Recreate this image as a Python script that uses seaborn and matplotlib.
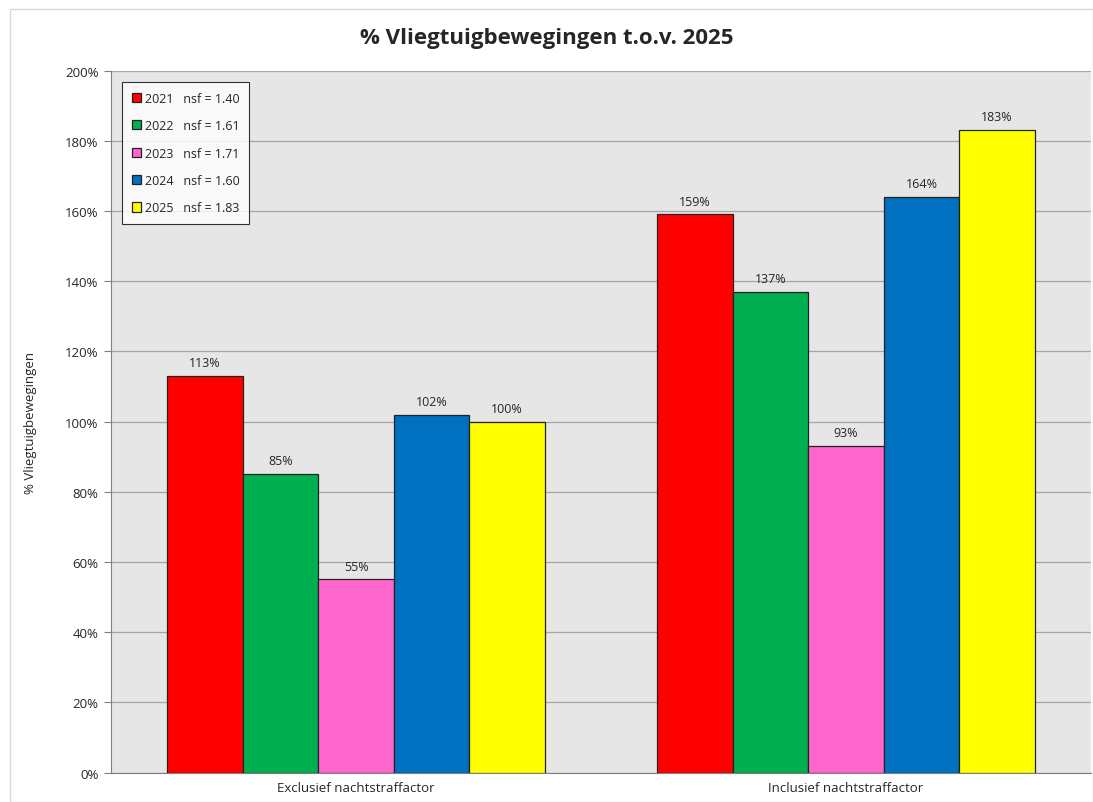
import pandas as pd
import seaborn as sns
import matplotlib.pyplot as plt
from matplotlib.patches import Rectangle
from matplotlib.ticker import MultipleLocator, FuncFormatter

# Data
categories = ["Exclusief nachtstraffactor", "Inclusief nachtstraffactor"]
years = ["2021", "2022", "2023", "2024", "2025"]
nsf = ["1.40", "1.61", "1.71", "1.60", "1.83"]
excl_values = [113, 85, 55, 102, 100]
incl_values = [159, 137, 93, 164, 183]
colors = ["#ff0000", "#00b050", "#ff66cc", "#0070c0", "#ffff00"]

rows = []
for i, y in enumerate(years):
    rows.append({"categorie": categories[0], "jaar": y, "waarde": excl_values[i]})
    rows.append({"categorie": categories[1], "jaar": y, "waarde": incl_values[i]})
df = pd.DataFrame(rows)

sns.set_style("white")
plt.rcParams["font.family"] = ["Open Sans", "DejaVu Sans"]

fig = plt.figure(figsize=(10.93, 8.03), dpi=100)
ax = fig.add_axes([0.1016, 0.0367, 0.8966, 0.8742])
ax.set_facecolor("#e6e6e6")

sns.barplot(data=df, x="categorie", y="waarde", hue="jaar", palette=colors,
            saturation=1, width=0.77, edgecolor="#222222", linewidth=0.9,
            ax=ax, zorder=3)

for cont in ax.containers:
    ax.bar_label(cont, labels=[f"{v:.0f}%" for v in cont.datavalues],
                 padding=5, fontsize=9)

ax.set_ylim(0, 200)
ax.yaxis.set_major_locator(MultipleLocator(20))
ax.yaxis.set_major_formatter(FuncFormatter(lambda v, p: f"{v:.0f}%"))
ax.grid(axis="y", color="#a6a6a6", linewidth=0.9, zorder=0)
ax.set_axisbelow(True)
ax.tick_params(axis="y", length=5, color="#808080", labelsize=9.5, pad=4, left=True)
ax.tick_params(axis="x", length=0, labelsize=9.5, pad=6)
for s in ["top", "right"]:
    ax.spines[s].set_visible(False)
ax.spines["left"].set_color("#808080")
ax.spines["bottom"].set_color("#808080")

ax.set_xlabel("")
ax.set_ylabel("% Vliegtuigbewegingen", fontsize=9.5, labelpad=20)

handles, _ = ax.get_legend_handles_labels()
leg_labels = [f"{y}   nsf = {n}" for y, n in zip(years, nsf)]
leg = ax.legend(handles, leg_labels, loc="upper left", bbox_to_anchor=(0.005, 0.992),
                frameon=True, fancybox=False, edgecolor="black", facecolor="white",
                fontsize=9, handlelength=0.75, handleheight=0.75, handletextpad=0.35,
                labelspacing=1.15, borderpad=0.75)
leg.get_frame().set_linewidth(0.8)

fig.suptitle("% Vliegtuigbewegingen t.o.v. 2025", fontsize=16, fontweight="bold", y=0.965)

# light border around the whole chart
fig.patches.append(Rectangle((10 / 1093, 0), 1 - 10 / 1093, 1 - 10 / 803,
                             transform=fig.transFigure, fill=False,
                             edgecolor="#d9d9d9", linewidth=1))

fig.savefig("out.png", dpi=100)
